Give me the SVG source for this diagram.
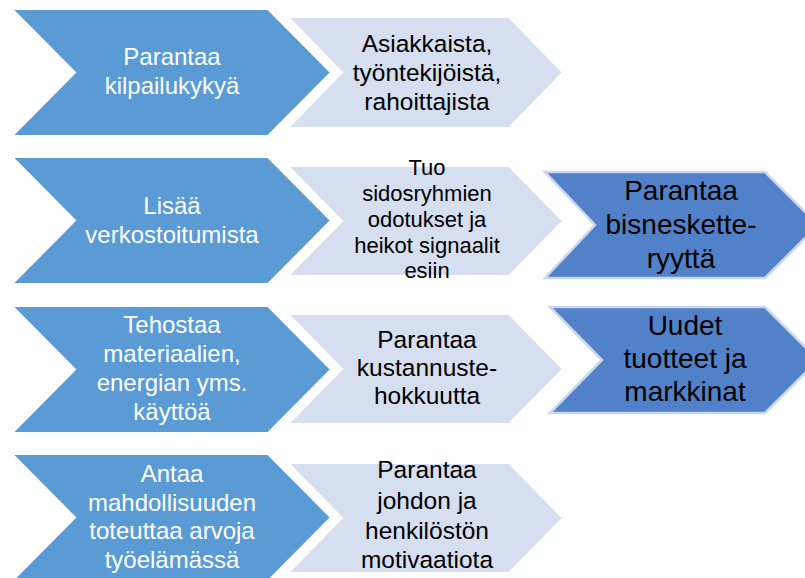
<svg xmlns="http://www.w3.org/2000/svg" width="805" height="578" viewBox="0 0 805 578">
<style>
.blue{fill:#5B9BD5;stroke:#FFFFFF;stroke-width:2}
.light{fill:#D5DFEF;stroke:#FFFFFF;stroke-width:2}
.dark{fill:#5181C9;stroke:#C9D6EC;stroke-width:2.5}
text{font-family:"Liberation Sans",Arial,sans-serif;text-anchor:middle}
.tb{fill:#FFFFFF;font-size:24px}
.tl{fill:#000000;font-size:24.5px}
.ts{fill:#000000;font-size:22px}
.td{fill:#000000;font-size:28px}
</style>
<rect width="805" height="578" fill="#FFFFFF"/>
<g id="connectors"></g>
<!-- Row 1 -->
<g id="blue1">
<polygon class="blue" points="12,9 268,9 331,72.5 268,136 12,136 75,72.5"/>
<text class="tb" x="172" y="65">Parantaa</text>
<text class="tb" x="172" y="94">kilpailukykyä</text>
</g>
<g id="light1">
<polygon class="light" points="288,17 509,17 563,72.5 509,128 288,128 342,72.5"/>
<text class="tl" x="427" y="52">Asiakkaista,</text>
<text class="tl" x="427" y="81">työntekijöistä,</text>
<text class="tl" x="427" y="110">rahoittajista</text>
</g>
<!-- Row 2 -->
<g id="blue2">
<polygon class="blue" points="12,157 268,157 331,220.5 268,284 12,284 75,220.5"/>
<text class="tb" x="172" y="214">Lisää</text>
<text class="tb" x="172" y="243">verkostoitumista</text>
</g>
<g id="light2">
<polygon class="light" points="288,166 509,166 563,221 509,276 288,276 342,221"/>
<text class="ts" x="427" y="175">Tuo</text>
<text class="ts" x="427" y="201">sidosryhmien</text>
<text class="ts" x="427" y="227">odotukset ja</text>
<text class="ts" x="427" y="253">heikot signaalit</text>
<text class="ts" x="427" y="278">esiin</text>
</g>
<g id="dark1">
<polygon class="dark" points="545,172 765,172 818,225 765,278 545,278 595,225"/>
<text class="td" x="681" y="200">Parantaa</text>
<text class="td" x="681" y="234">bisneskette-</text>
<text class="td" x="681" y="268">ryyttä</text>
</g>
<!-- Row 3 -->
<g id="blue3">
<polygon class="blue" points="12,306 268,306 331,369.5 268,433 12,433 75,369.5"/>
<text class="tb" x="172" y="333">Tehostaa</text>
<text class="tb" x="172" y="362">materiaalien,</text>
<text class="tb" x="172" y="391">energian yms.</text>
<text class="tb" x="172" y="420">käyttöä</text>
</g>
<g id="light3">
<polygon class="light" points="288,314 509,314 563,369 509,424 288,424 342,369"/>
<text class="tl" x="427" y="348">Parantaa</text>
<text class="tl" x="427" y="376">kustannuste-</text>
<text class="tl" x="427" y="404">hokkuutta</text>
</g>
<g id="dark2">
<polygon class="dark" points="550,307 765,307 818,360 765,413 550,413 602,360"/>
<text class="td" x="685" y="335">Uudet</text>
<text class="td" x="685" y="368">tuotteet ja</text>
<text class="td" x="685" y="401">markkinat</text>
</g>
<!-- Row 4 -->
<g id="blue4">
<polygon class="blue" points="12,454 268,454 331,517.5 268,581 12,581 75,517.5"/>
<text class="tb" x="172" y="482">Antaa</text>
<text class="tb" x="172" y="511">mahdollisuuden</text>
<text class="tb" x="172" y="539">toteuttaa arvoja</text>
<text class="tb" x="172" y="568">työelämässä</text>
</g>
<g id="light4">
<polygon class="light" points="288,463 509,463 563,518 509,573 288,573 342,518"/>
<text class="tl" x="427" y="478">Parantaa</text>
<text class="tl" x="427" y="509">johdon ja</text>
<text class="tl" x="427" y="539">henkilöstön</text>
<text class="tl" x="427" y="568">motivaatiota</text>
</g>
</svg>
